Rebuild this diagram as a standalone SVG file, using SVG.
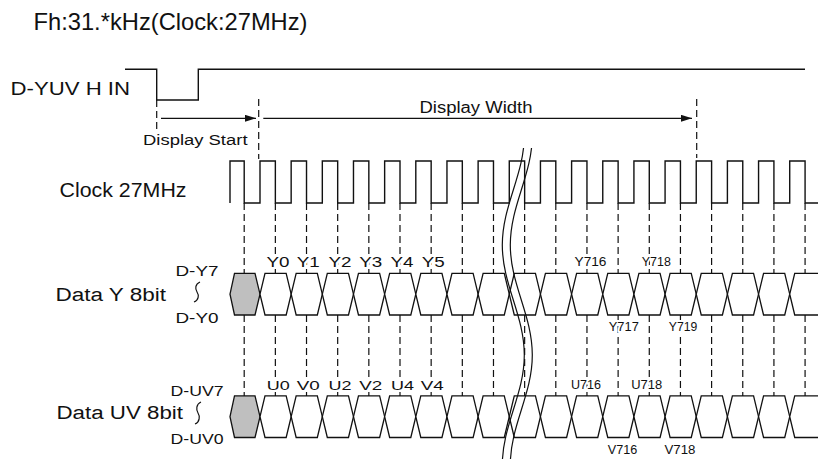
<svg xmlns="http://www.w3.org/2000/svg" xmlns:xlink="http://www.w3.org/1999/xlink" width="818" height="459" viewBox="0 0 818 459">
<style>
.t{font-family:"Liberation Sans",Arial,sans-serif;fill:#111;}
.lb{font-family:"Liberation Sans",Arial,sans-serif;fill:#111;stroke:#fff;stroke-width:4;paint-order:stroke;stroke-linejoin:round;}
.wf{fill:none;stroke:#111;stroke-width:1.4;}
.hx{fill:#fff;stroke:#111;stroke-width:1.3;}
.gx{fill:#bfbfbf;stroke:#111;stroke-width:1.3;}
.ds{fill:none;stroke:#111;stroke-width:1.2;stroke-dasharray:7 4;}
.ar{fill:none;stroke:#111;stroke-width:1.3;marker-end:url(#ah);}
.brk{fill:none;stroke:#111;stroke-width:1.2;}
</style>
<defs>
<marker id="ah" markerUnits="userSpaceOnUse" markerWidth="12" markerHeight="8" refX="11" refY="3.5" orient="auto"><path d="M0,0 L11,3.5 L0,7 z" fill="#111"/></marker>
<polygon id="hx" class="hx" points="0,0 5,-20.8 26.16,-20.8 31.16,0 26.16,20.8 5,20.8"/>
<polygon id="gx" class="gx" points="0,0 4.5,-20.8 25,-20.8 30,0 25,20.8 4.5,20.8"/>
<clipPath id="bc"><rect x="480" y="148" width="80" height="311"/></clipPath>
</defs>

<g id="title"><text class="t" x="33.5" y="29.5" font-size="24" textLength="274" lengthAdjust="spacingAndGlyphs">Fh:31.*kHz(Clock:27MHz)</text></g>

<g id="hin">
<text class="t" x="10.5" y="95" font-size="17.5" textLength="119.5" lengthAdjust="spacingAndGlyphs">D-YUV H IN</text>
<path class="wf" d="M125,69.3 H156.7 V100 H198.3 V69.3 H805"/>
</g>

<g id="clock">
<text class="t" x="59.5" y="197.3" font-size="21" textLength="127" lengthAdjust="spacingAndGlyphs">Clock 27MHz</text>
<path class="wf" d="M230,203 V161 H244.2 V203 H260 V161 H275.36 V203 H291.16 V161 H306.52 V203 H322.32 V161 H337.68 V203 H353.48 V161 H368.84 V203 H384.64 V161 H400 V203 H415.8 V161 H431.16 V203 H446.96 V161 H462.32 V203 H478.12 V161 H493.48 V203 H509.28 V161 H524.64 V203 H540.44 V161 H555.8 V203 H571.6 V161 H586.96 V203 H602.76 V161 H618.12 V203 H633.92 V161 H649.28 V203 H665.08 V161 H680.44 V203 H696.24 V161 H711.6 V203 H727.4 V161 H742.76 V203 H758.56 V161 H773.92 V203 H789.72 V161 H805.08 V203 H818"/>
</g>

<g id="connectors">
<path class="ds" d="M156.7,100V131 M258.7,99V159 M696.7,99V158"/>
<line class="ar" x1="161" y1="118.3" x2="256" y2="118.3"/>
<line class="ar" x1="263.3" y1="118.3" x2="692" y2="118.3"/>
<path class="ds" d="M244.2,203V273.4M244.2,315V395.9 M275.36,203V273.4M275.36,315V395.9 M306.52,203V273.4M306.52,315V395.9 M337.68,203V273.4M337.68,315V395.9 M368.84,203V273.4M368.84,315V395.9 M400,203V273.4M400,315V395.9 M431.16,203V273.4M431.16,315V395.9 M462.32,203V273.4M462.32,315V395.9 M493.48,203V273.4M493.48,315V395.9 M524.64,203V273.4M524.64,315V395.9 M555.8,203V273.4M555.8,315V395.9 M586.96,203V273.4M586.96,315V395.9 M618.12,203V273.4M618.12,315V395.9 M649.28,203V273.4M649.28,315V395.9 M680.44,203V273.4M680.44,315V395.9 M711.6,203V273.4M711.6,315V395.9 M742.76,203V273.4M742.76,315V395.9 M773.92,203V273.4M773.92,315V395.9 M805.08,203V273.4M805.08,315V395.9"/>
</g>

<g id="annotations">
<text class="t" x="143" y="145" font-size="14" textLength="104.5" lengthAdjust="spacingAndGlyphs">Display Start</text>
<text class="t" x="419.5" y="113.3" font-size="16" textLength="113" lengthAdjust="spacingAndGlyphs">Display Width</text>
</g>

<g id="dataY">
<text class="t" x="55.5" y="300.7" font-size="18" textLength="110.5" lengthAdjust="spacingAndGlyphs">Data Y 8bit</text>
<text class="t" x="175.5" y="276" font-size="15" textLength="43" lengthAdjust="spacingAndGlyphs">D-Y7</text>
<text class="t" x="175.5" y="322.7" font-size="15" textLength="43" lengthAdjust="spacingAndGlyphs">D-Y0</text>
<path class="brk" d="M200,282 C195,284 195,289 197,292 C199,295 199,300 194,302"/>
<use xlink:href="#gx" x="230" y="294.2"/>
<use xlink:href="#hx" x="260" y="294.2"/>
<use xlink:href="#hx" x="291.16" y="294.2"/>
<use xlink:href="#hx" x="322.32" y="294.2"/>
<use xlink:href="#hx" x="353.48" y="294.2"/>
<use xlink:href="#hx" x="384.64" y="294.2"/>
<use xlink:href="#hx" x="415.8" y="294.2"/>
<use xlink:href="#hx" x="446.96" y="294.2"/>
<use xlink:href="#hx" x="478.12" y="294.2"/>
<use xlink:href="#hx" x="509.28" y="294.2"/>
<use xlink:href="#hx" x="540.44" y="294.2"/>
<use xlink:href="#hx" x="571.6" y="294.2"/>
<use xlink:href="#hx" x="602.76" y="294.2"/>
<use xlink:href="#hx" x="633.92" y="294.2"/>
<use xlink:href="#hx" x="665.08" y="294.2"/>
<use xlink:href="#hx" x="696.24" y="294.2"/>
<use xlink:href="#hx" x="727.4" y="294.2"/>
<use xlink:href="#hx" x="758.56" y="294.2"/>
<path class="hx" d="M818,273.4 H794.72 L789.72,294.2 L794.72,315 H818"/>
<text class="lb" x="266.5" y="266.7" font-size="14" textLength="23" lengthAdjust="spacingAndGlyphs">Y0</text>
<text class="lb" x="296.8" y="266.7" font-size="14" textLength="23" lengthAdjust="spacingAndGlyphs">Y1</text>
<text class="lb" x="328.5" y="266.7" font-size="14" textLength="23" lengthAdjust="spacingAndGlyphs">Y2</text>
<text class="lb" x="359.3" y="266.7" font-size="14" textLength="23" lengthAdjust="spacingAndGlyphs">Y3</text>
<text class="lb" x="390.5" y="266.7" font-size="14" textLength="23" lengthAdjust="spacingAndGlyphs">Y4</text>
<text class="lb" x="421.8" y="266.7" font-size="14" textLength="23" lengthAdjust="spacingAndGlyphs">Y5</text>
<text class="lb" x="574.5" y="266" font-size="13" textLength="32" lengthAdjust="spacingAndGlyphs">Y716</text>
<text class="lb" x="641.8" y="266" font-size="13" textLength="29" lengthAdjust="spacingAndGlyphs">Y718</text>
<text class="lb" x="608.8" y="330.7" font-size="13" textLength="30" lengthAdjust="spacingAndGlyphs">Y717</text>
<text class="lb" x="668.8" y="330.7" font-size="13" textLength="28.5" lengthAdjust="spacingAndGlyphs">Y719</text>
</g>

<g id="dataUV">
<text class="t" x="56.5" y="419.3" font-size="18" textLength="126.5" lengthAdjust="spacingAndGlyphs">Data UV 8bit</text>
<text class="t" x="170.5" y="395.5" font-size="15" textLength="53" lengthAdjust="spacingAndGlyphs">D-UV7</text>
<text class="t" x="170.5" y="444" font-size="15" textLength="53" lengthAdjust="spacingAndGlyphs">D-UV0</text>
<path class="brk" d="M201,402 C196,404 196,410 198,413 C200,416 200,422 195,424"/>
<use xlink:href="#gx" x="230" y="416.7"/>
<use xlink:href="#hx" x="260" y="416.7"/>
<use xlink:href="#hx" x="291.16" y="416.7"/>
<use xlink:href="#hx" x="322.32" y="416.7"/>
<use xlink:href="#hx" x="353.48" y="416.7"/>
<use xlink:href="#hx" x="384.64" y="416.7"/>
<use xlink:href="#hx" x="415.8" y="416.7"/>
<use xlink:href="#hx" x="446.96" y="416.7"/>
<use xlink:href="#hx" x="478.12" y="416.7"/>
<use xlink:href="#hx" x="509.28" y="416.7"/>
<use xlink:href="#hx" x="540.44" y="416.7"/>
<use xlink:href="#hx" x="571.6" y="416.7"/>
<use xlink:href="#hx" x="602.76" y="416.7"/>
<use xlink:href="#hx" x="633.92" y="416.7"/>
<use xlink:href="#hx" x="665.08" y="416.7"/>
<use xlink:href="#hx" x="696.24" y="416.7"/>
<use xlink:href="#hx" x="727.4" y="416.7"/>
<use xlink:href="#hx" x="758.56" y="416.7"/>
<path class="hx" d="M818,395.9 H794.72 L789.72,416.7 L794.72,437.5 H818"/>
<text class="lb" x="266.8" y="390" font-size="13.5" textLength="23" lengthAdjust="spacingAndGlyphs">U0</text>
<text class="lb" x="296.8" y="390" font-size="13.5" textLength="23" lengthAdjust="spacingAndGlyphs">V0</text>
<text class="lb" x="328.5" y="390" font-size="13.5" textLength="23" lengthAdjust="spacingAndGlyphs">U2</text>
<text class="lb" x="359.2" y="390" font-size="13.5" textLength="23" lengthAdjust="spacingAndGlyphs">V2</text>
<text class="lb" x="391" y="390" font-size="13.5" textLength="23" lengthAdjust="spacingAndGlyphs">U4</text>
<text class="lb" x="420.7" y="390" font-size="13.5" textLength="23" lengthAdjust="spacingAndGlyphs">V4</text>
<text class="lb" x="571" y="389.3" font-size="13" textLength="30" lengthAdjust="spacingAndGlyphs">U716</text>
<text class="lb" x="631.2" y="389.3" font-size="13" textLength="31" lengthAdjust="spacingAndGlyphs">U718</text>
<text class="lb" x="607.8" y="454.3" font-size="13" textLength="29.5" lengthAdjust="spacingAndGlyphs">V716</text>
<text class="lb" x="664.5" y="454.3" font-size="13" textLength="31" lengthAdjust="spacingAndGlyphs">V718</text>
</g>

<g id="break" clip-path="url(#bc)">
<path class="brk" d="M524.3,135 C524.3,175 502.3,205 502.3,245 C502.3,285 524.3,315 524.3,355 C524.3,395 502.3,425 502.3,465"/>
<path class="brk" d="M532.3,135 C532.3,175 510.3,205 510.3,245 C510.3,285 532.3,315 532.3,355 C532.3,395 510.3,425 510.3,465"/>
</g>
</svg>
